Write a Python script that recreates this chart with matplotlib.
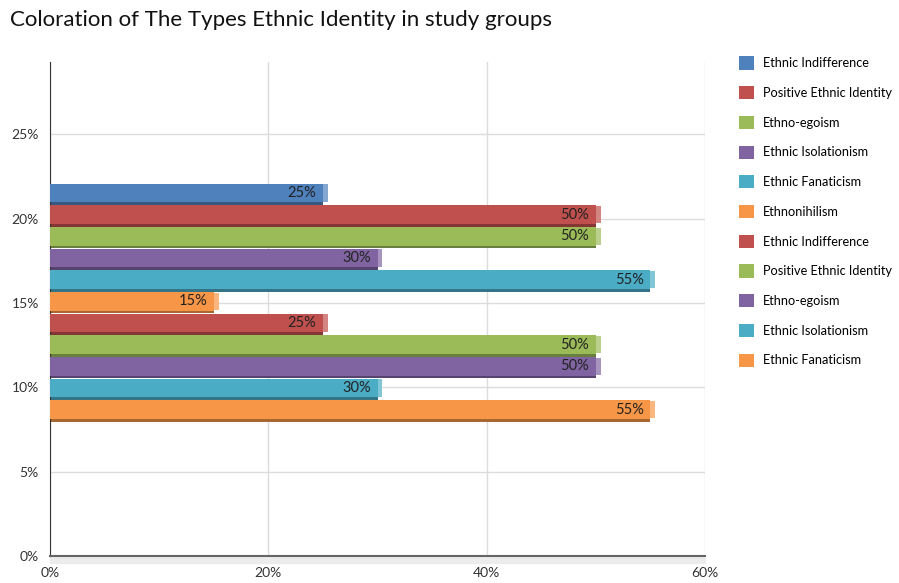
import matplotlib.pyplot as plt
from matplotlib.patches import Patch
from matplotlib.colors import to_rgb

plt.rcParams['font.family'] = ['Lato', 'DejaVu Sans']

title = 'Coloration of The Types Ethnic Identity in study groups'
labels = ['Ethnic Indifference', 'Positive Ethnic Identity', 'Ethno-egoism',
          'Ethnic Isolationism', 'Ethnic Fanaticism', 'Ethnonihilism',
          'Ethnic Indifference', 'Positive Ethnic Identity', 'Ethno-egoism',
          'Ethnic Isolationism', 'Ethnic Fanaticism']
values = [25, 50, 50, 30, 55, 15, 25, 50, 50, 30, 55]
colors = ['#4F81BD', '#C0504D', '#9BBB59', '#8064A2', '#4BACC6', '#F79646',
          '#C0504D', '#9BBB59', '#8064A2', '#4BACC6', '#F79646']
xticks = [0, 20, 40, 60]
yticks = [0, 5, 10, 15, 20, 25]


def shade(c, f):
    r, g, b = to_rgb(c)
    if f < 1:
        return (r * f, g * f, b * f)
    return (r + (1 - r) * (f - 1), g + (1 - g) * (f - 1), b + (1 - b) * (f - 1))


fig = plt.figure(figsize=(8.99, 5.83), dpi=100)
ax = fig.add_axes([50 / 899, 27 / 583, 655 / 899, 494 / 583])

top = 21.45
step = 1.285
h = 1.25
edge = 0.16
for i, (v, c) in enumerate(zip(values, colors)):
    y = top - i * step
    # dark bottom edge (3d look)
    ax.barh(y - h / 2 + edge / 2, v, height=edge, color=shade(c, 0.68), zorder=2)
    ax.barh(y + edge / 2, v, height=h - edge, color=c, zorder=3)
    # lighter end face
    ax.barh(y + edge / 2, 0.45, left=v, height=h - edge - 0.05, color=shade(c, 1.3), zorder=3)
    ax.text(v - 0.6, y + edge / 2, '%d%%' % v, ha='right', va='center', fontsize=10.5,
            color='#222222', zorder=4)

ax.set_xlim(0, 60)
ax.set_ylim(0, 29.3)
ax.set_xticks(xticks)
ax.set_xticklabels(['%d%%' % t for t in xticks], fontsize=10)
ax.set_yticks(yticks)
ax.set_yticklabels(['%d%%' % t for t in yticks], fontsize=10)
ax.tick_params(length=0, pad=8, colors='#333333')
ax.grid(True, color='#dcdcdc', linewidth=1)
ax.set_axisbelow(True)
for s in ['top', 'right']:
    ax.spines[s].set_visible(False)
ax.spines['left'].set_color('#333333')
ax.spines['bottom'].set_color('#666666')
ax.spines['bottom'].set_linewidth(1.5)
ax.axhspan(-0.4, 0, color='#ececec', clip_on=False, zorder=1)

handles = [Patch(facecolor=c, edgecolor='none') for c in colors]
fig.legend(handles, labels, loc='upper left', bbox_to_anchor=(727 / 899, 1 - 45 / 583),
           frameon=False, fontsize=9.2, handlelength=1.2, handleheight=1.2,
           labelspacing=1.3, handletextpad=0.7)

fig.text(10 / 899, 1 - 20 / 583, title, fontsize=16, va='center', ha='left', color='#111111')

fig.savefig('out.png', dpi=100)
